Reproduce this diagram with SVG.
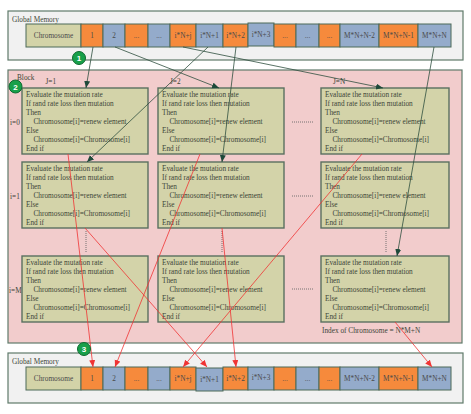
<svg xmlns="http://www.w3.org/2000/svg" width="471" height="414" viewBox="0 0 471 414">
<defs>
<style>
text{font-family:"Liberation Serif","Times New Roman",serif;font-size:7.3px;fill:#3d4638}
.mem{fill:#f1f1f1;stroke:#5f7a6a;stroke-width:1.2}
.blk{fill:#f2cccc;stroke:#5f7a6a;stroke-width:1.2}
.cell{stroke:#4c6a58;stroke-width:1}
.o{fill:#f68a3c}
.b{fill:#94abcb}
.k{fill:#d3d3a8}
.ct{text-anchor:middle;fill:#4a4a4a}
.box{fill:#d3d3a9;stroke:#5a7060;stroke-width:1.4}
.dot{stroke:#666;stroke-width:0.9;stroke-dasharray:1,1;fill:none}
.dk{stroke:#2f4f3f;stroke-width:0.8;fill:none;marker-end:url(#ad)}
.rd{stroke:#f03434;stroke-width:0.8;fill:none;marker-end:url(#ar)}
.num circle{fill:#17a04a;stroke:#0d6a30;stroke-width:1}
.num text{fill:#fff;font-family:"Liberation Sans",Arial,sans-serif;font-size:8px;font-weight:bold;text-anchor:middle}
</style>
<marker id="ad" markerUnits="userSpaceOnUse" markerWidth="8" markerHeight="8" refX="7" refY="3" orient="auto"><path d="M0,0 L7,3 L0,6 z" fill="#1e4a3a"/></marker>
<marker id="ar" markerUnits="userSpaceOnUse" markerWidth="8" markerHeight="8" refX="7" refY="3" orient="auto"><path d="M0,0 L7,3 L0,6 z" fill="#f03434"/></marker>
</defs>

<g id="global-memory-top">
<rect class="mem" x="8" y="11" width="455" height="49"/>
<text x="12" y="21.5">Global Memory</text>
<rect class="cell k" x="26" y="24" width="55" height="23"/><text class="ct" x="53.5" y="38">Chromosome</text>
<rect class="cell o" x="81" y="24" width="22" height="23"/><text class="ct" x="92" y="38">1</text>
<rect class="cell b" x="103" y="24" width="22" height="23"/><text class="ct" x="114" y="38">2</text>
<rect class="cell o" x="125" y="24" width="23" height="23"/><text class="ct" x="136.5" y="38">...</text>
<rect class="cell b" x="148" y="24" width="22" height="23"/><text class="ct" x="159" y="38">...</text>
<rect class="cell o" x="170" y="24" width="26" height="23"/><text class="ct" x="183" y="38">i*N+j</text>
<rect class="cell b" x="196" y="24" width="27" height="23"/><text class="ct" x="209.5" y="38">i*N+1</text>
<rect class="cell o" x="223" y="24" width="25" height="23"/><text class="ct" x="235.5" y="38">i*N+2</text>
<rect class="cell b" x="248" y="23" width="26" height="23" stroke-width="1.4"/><text class="ct" x="261" y="37">i*N+3</text>
<rect class="cell o" x="274" y="24" width="22" height="23"/><text class="ct" x="285" y="38">...</text>
<rect class="cell b" x="296" y="24" width="23" height="23"/><text class="ct" x="307.5" y="38">...</text>
<rect class="cell o" x="319" y="24" width="21" height="23"/><text class="ct" x="329.5" y="38">...</text>
<rect class="cell b" x="340" y="24" width="39" height="23"/><text class="ct" x="359.5" y="38">M*N+N-2</text>
<rect class="cell o" x="379" y="24" width="39" height="23"/><text class="ct" x="398.5" y="38">M*N+N-1</text>
<rect class="cell b" x="418" y="24" width="33" height="23"/><text class="ct" x="434.5" y="38">M*N+N</text>
</g>

<g id="block">
<rect class="blk" x="8" y="70" width="454" height="273"/>
<text x="17" y="79.5">Block</text>
<text x="45.5" y="84">J=1</text>
<text x="170" y="84">J=2</text>
<text x="333" y="83.5">J=N</text>
<text x="10" y="124.5">i=0</text>
<text x="10" y="199">i=1</text>
<text x="9" y="292.5">i=M</text>
<path class="dot" d="M292,122 H313 M292,196 H313 M292,289 H313 M86,231 V252 M222,231 V252 M386,231 V252"/>
<text x="322" y="332.5">Index of Chromosome = N*M+N</text>
</g>

<g id="box-0-1">
<rect class="box" x="22" y="88" width="126" height="66"/>
<text x="26" y="97">Evaluate the mutation rate</text><text x="26" y="106">If rand rate loss then mutation</text><text x="26" y="115">Then</text><text x="33.5" y="124">Chromosome[i]=renew element</text><text x="26" y="133">Else</text><text x="33.5" y="142">Chromosome[i]=Chromosome[i]</text><text x="26" y="151">End if</text>
</g>
<g id="box-0-2">
<rect class="box" x="158" y="88" width="126" height="66"/>
<text x="162" y="97">Evaluate the mutation rate</text><text x="162" y="106">If rand rate loss then mutation</text><text x="162" y="115">Then</text><text x="169.5" y="124">Chromosome[i]=renew element</text><text x="162" y="133">Else</text><text x="169.5" y="142">Chromosome[i]=Chromosome[i]</text><text x="162" y="151">End if</text>
</g>
<g id="box-0-N">
<rect class="box" x="321" y="88" width="128" height="66"/>
<text x="325" y="97">Evaluate the mutation rate</text><text x="325" y="106">If rand rate loss then mutation</text><text x="325" y="115">Then</text><text x="332.5" y="124">Chromosome[i]=renew element</text><text x="325" y="133">Else</text><text x="332.5" y="142">Chromosome[i]=Chromosome[i]</text><text x="325" y="151">End if</text>
</g>
<g id="box-1-1">
<rect class="box" x="22" y="162" width="126" height="66"/>
<text x="26" y="171">Evaluate the mutation rate</text><text x="26" y="180">If rand rate loss then mutation</text><text x="26" y="189">Then</text><text x="33.5" y="198">Chromosome[i]=renew element</text><text x="26" y="207">Else</text><text x="33.5" y="216">Chromosome[i]=Chromosome[i]</text><text x="26" y="225">End if</text>
</g>
<g id="box-1-2">
<rect class="box" x="158" y="162" width="126" height="66"/>
<text x="162" y="171">Evaluate the mutation rate</text><text x="162" y="180">If rand rate loss then mutation</text><text x="162" y="189">Then</text><text x="169.5" y="198">Chromosome[i]=renew element</text><text x="162" y="207">Else</text><text x="169.5" y="216">Chromosome[i]=Chromosome[i]</text><text x="162" y="225">End if</text>
</g>
<g id="box-1-N">
<rect class="box" x="321" y="162" width="128" height="66"/>
<text x="325" y="171">Evaluate the mutation rate</text><text x="325" y="180">If rand rate loss then mutation</text><text x="325" y="189">Then</text><text x="332.5" y="198">Chromosome[i]=renew element</text><text x="325" y="207">Else</text><text x="332.5" y="216">Chromosome[i]=Chromosome[i]</text><text x="325" y="225">End if</text>
</g>
<g id="box-M-1">
<rect class="box" x="22" y="256" width="126" height="66"/>
<text x="26" y="265">Evaluate the mutation rate</text><text x="26" y="274">If rand rate loss then mutation</text><text x="26" y="283">Then</text><text x="33.5" y="292">Chromosome[i]=renew element</text><text x="26" y="301">Else</text><text x="33.5" y="310">Chromosome[i]=Chromosome[i]</text><text x="26" y="319">End if</text>
</g>
<g id="box-M-2">
<rect class="box" x="158" y="256" width="126" height="66"/>
<text x="162" y="265">Evaluate the mutation rate</text><text x="162" y="274">If rand rate loss then mutation</text><text x="162" y="283">Then</text><text x="169.5" y="292">Chromosome[i]=renew element</text><text x="162" y="301">Else</text><text x="169.5" y="310">Chromosome[i]=Chromosome[i]</text><text x="162" y="319">End if</text>
</g>
<g id="box-M-N">
<rect class="box" x="321" y="256" width="128" height="66"/>
<text x="325" y="265">Evaluate the mutation rate</text><text x="325" y="274">If rand rate loss then mutation</text><text x="325" y="283">Then</text><text x="332.5" y="292">Chromosome[i]=renew element</text><text x="325" y="301">Else</text><text x="332.5" y="310">Chromosome[i]=Chromosome[i]</text><text x="325" y="319">End if</text>
</g>

<g id="global-memory-bottom">
<rect class="mem" x="8" y="353" width="455" height="50"/>
<text x="12" y="364">Global Memory</text>
<rect class="cell k" x="26" y="367" width="55" height="23"/><text class="ct" x="53.5" y="381">Chromosome</text>
<rect class="cell o" x="81" y="367" width="22" height="23"/><text class="ct" x="92" y="381">1</text>
<rect class="cell b" x="103" y="367" width="22" height="23"/><text class="ct" x="114" y="381">2</text>
<rect class="cell o" x="125" y="367" width="23" height="23"/><text class="ct" x="136.5" y="381">...</text>
<rect class="cell b" x="148" y="367" width="22" height="23"/><text class="ct" x="159" y="381">...</text>
<rect class="cell o" x="170" y="367" width="26" height="23"/><text class="ct" x="183" y="381">i*N+j</text>
<rect class="cell b" x="196" y="368" width="27" height="23" stroke-width="1.3"/><text class="ct" x="209.5" y="382">i*N+1</text>
<rect class="cell o" x="223" y="367" width="25" height="23"/><text class="ct" x="235.5" y="381">i*N+2</text>
<rect class="cell b" x="248" y="367" width="26" height="23"/><text class="ct" x="261" y="380">i*N+3</text>
<rect class="cell o" x="274" y="367" width="22" height="23"/><text class="ct" x="285" y="381">...</text>
<rect class="cell b" x="296" y="367" width="23" height="23"/><text class="ct" x="307.5" y="381">...</text>
<rect class="cell o" x="319" y="367" width="21" height="23"/><text class="ct" x="329.5" y="381">...</text>
<rect class="cell b" x="340" y="367" width="39" height="23"/><text class="ct" x="359.5" y="381">M*N+N-2</text>
<rect class="cell o" x="379" y="367" width="39" height="23"/><text class="ct" x="398.5" y="381">M*N+N-1</text>
<rect class="cell b" x="418" y="367" width="33" height="23"/><text class="ct" x="434.5" y="381">M*N+N</text>
</g>

<g id="connectors">
<line class="dk" x1="93" y1="47" x2="86" y2="88"/>
<line class="dk" x1="115" y1="47" x2="219" y2="88"/>
<line class="dk" x1="183" y1="47" x2="383" y2="88"/>
<line class="dk" x1="208" y1="47" x2="87" y2="162"/>
<line class="dk" x1="236" y1="47" x2="222" y2="162"/>
<line class="dk" x1="434" y1="47" x2="397" y2="256"/>
<line class="rd" x1="68" y1="154" x2="93" y2="367"/>
<line class="rd" x1="200" y1="154" x2="115" y2="367"/>
<line class="rd" x1="362" y1="154" x2="183" y2="367"/>
<line class="rd" x1="85" y1="228" x2="207" y2="367"/>
<line class="rd" x1="222" y1="228" x2="236" y2="367"/>
<line class="rd" x1="395" y1="322" x2="432" y2="367"/>
</g>

<g id="marker-1" class="num"><circle cx="79" cy="58" r="6.5"/><text x="79" y="61">1</text></g>
<g id="marker-2" class="num"><circle cx="15.5" cy="86.5" r="6.5"/><text x="15.5" y="89.5">2</text></g>
<g id="marker-3" class="num"><circle cx="84" cy="349" r="6.5"/><text x="84" y="352">3</text></g>
</svg>
